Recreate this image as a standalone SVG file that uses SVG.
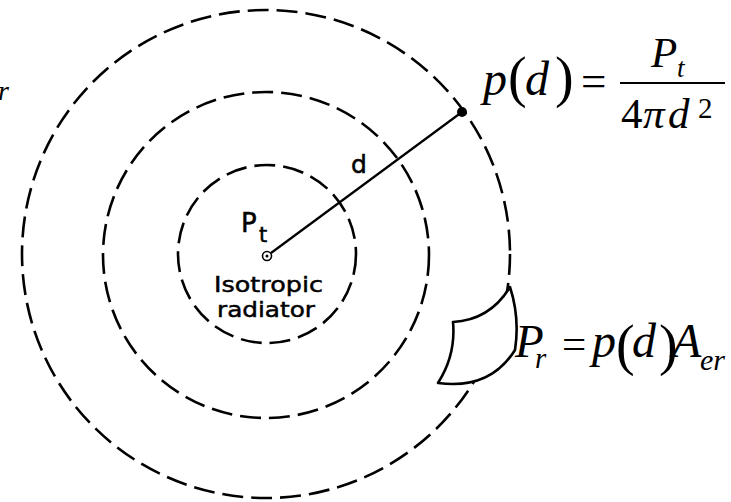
<svg xmlns="http://www.w3.org/2000/svg" width="731" height="502" viewBox="0 0 731 502">
<style>
.ring{fill:none;stroke:#000;stroke-width:2.6;stroke-dasharray:21 8}
.lbl{font-family:"DejaVu Sans","Liberation Sans",sans-serif;fill:#000;stroke:#000;stroke-width:0.5}
.m{font-family:"Liberation Serif","Times New Roman",serif;font-style:italic;fill:#000}
.mu{font-family:"Liberation Serif","Times New Roman",serif;fill:#000}
</style>
<rect width="731" height="502" fill="#fff"/>
<g id="ring-outer"><circle class="ring" cx="266" cy="254" r="244"/></g>
<g id="ring-middle"><circle class="ring" cx="266" cy="255" r="163"/></g>
<g id="ring-inner"><circle class="ring" cx="267" cy="254" r="89"/></g>
<g id="connectors">
<line x1="271" y1="253" x2="462" y2="112" stroke="#000" stroke-width="2.2"/>
</g>
<g id="radiator">
<circle cx="267" cy="256" r="4.5" fill="#fff" stroke="#000" stroke-width="1.6"/>
<circle cx="267" cy="256" r="1.5" fill="#000"/>
<text class="lbl" x="241" y="232" font-size="26">P</text>
<text class="lbl" x="259" y="242" font-size="21">t</text>
<text class="lbl" x="214" y="292" font-size="22" textLength="109" lengthAdjust="spacingAndGlyphs">Isotropic</text>
<text class="lbl" x="217" y="317" font-size="22" textLength="98" lengthAdjust="spacingAndGlyphs">radiator</text>
</g>
<g id="distance-label"><text class="lbl" x="351" y="173" font-size="25">d</text></g>
<g id="point"><circle cx="462" cy="112" r="5" fill="#000"/></g>
<g id="formula-density">
<text class="m" x="483" y="95" font-size="48">p</text>
<text class="mu" x="508" y="96" font-size="56">(</text>
<text class="m" x="525" y="95" font-size="48">d</text>
<text class="mu" x="555" y="96" font-size="56">)</text>
<text class="mu" x="581" y="96" font-size="45">=</text>
<line x1="620" y1="83" x2="725" y2="83" stroke="#000" stroke-width="2"/>
<text class="m" x="651" y="67" font-size="43">P</text>
<text class="m" x="677" y="77" font-size="27">t</text>
<text class="mu" x="621" y="128" font-size="43">4</text>
<text class="m" x="643" y="128" font-size="43">π</text>
<text class="m" x="668" y="128" font-size="43">d</text>
<text class="mu" x="698" y="118" font-size="29">2</text>
</g>
<g id="aperture">
<path d="M510,287 Q490,320 453,322 Q456,355 438,383 Q490,390 515,350 Q520,318 510,287 Z" fill="#fff" stroke="#000" stroke-width="2.6" stroke-linejoin="round"/>
</g>
<g id="formula-received">
<text class="m" x="515" y="357" font-size="47">P</text>
<text class="m" x="535" y="368" font-size="29">r</text>
<text class="mu" x="562" y="358" font-size="43">=</text>
<text class="m" x="592" y="357" font-size="48">p</text>
<text class="mu" x="616" y="364" font-size="56">(</text>
<text class="m" x="632" y="357" font-size="48">d</text>
<text class="mu" x="659" y="364" font-size="56">)</text>
<text class="m" x="672" y="357" font-size="48">A</text>
<text class="m" x="700" y="370" font-size="30">er</text>
</g>
<g id="cut-label"><text class="m" x="-2" y="100" font-size="28">r</text></g>
</svg>
